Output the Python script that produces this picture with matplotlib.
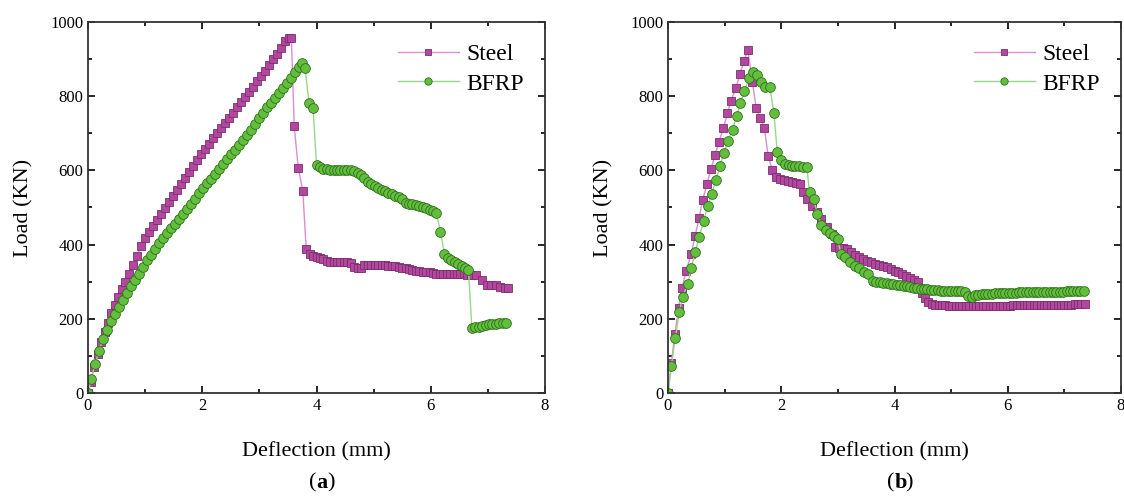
import matplotlib
matplotlib.use("Agg")
import matplotlib.pyplot as plt
from matplotlib.ticker import MultipleLocator

# ---- panel (a) ----
steel_a_x = [0.0, 0.05, 0.11, 0.17, 0.23, 0.29, 0.35, 0.41, 0.47, 0.53, 0.59, 0.65,
             0.72, 0.79, 0.86, 0.93, 1.0, 1.07, 1.14, 1.21, 1.28, 1.35, 1.42, 1.49,
             1.56, 1.63, 1.70, 1.77, 1.84, 1.91, 1.98, 2.05, 2.12, 2.19, 2.26, 2.33,
             2.40, 2.47, 2.54, 2.61, 2.68, 2.75, 2.82, 2.89, 2.96, 3.03, 3.10, 3.17,
             3.24, 3.31, 3.38, 3.45, 3.52, 3.56, 3.61, 3.68, 3.76, 3.82, 3.88, 3.94,
             4.00, 4.06, 4.12, 4.18, 4.24, 4.30, 4.36, 4.42, 4.48, 4.54, 4.60, 4.66,
             4.72, 4.78, 4.84, 4.90, 4.96, 5.02, 5.08, 5.14, 5.20, 5.26, 5.32, 5.38,
             5.44, 5.50, 5.56, 5.62, 5.68, 5.74, 5.80, 5.86, 5.92, 5.98, 6.04, 6.10,
             6.16, 6.22, 6.28, 6.34, 6.40, 6.46, 6.52, 6.58, 6.64, 6.70, 6.80, 6.90,
             6.98, 7.06, 7.14, 7.22, 7.30, 7.36]
steel_a_y = [0, 30, 70, 105, 138, 165, 190, 215, 238, 260, 280, 300,
             322, 344, 370, 395, 418, 435, 451, 467, 483, 499, 515, 531,
             547, 563, 579, 595, 611, 627, 643, 658, 672, 686, 700, 714,
             728, 742, 756, 770, 784, 798, 812, 826, 840, 854, 869, 884,
             899, 914, 929, 950, 958, 958, 720, 607, 545, 388, 375, 370,
             366, 363, 360, 357, 354, 352, 352, 353, 353, 354, 350, 340,
             338, 338, 344, 346, 346, 346, 345, 345, 344, 343, 342, 341,
             340, 338, 336, 334, 332, 330, 328, 327, 326, 325, 324, 322,
             320, 320, 320, 320, 321, 321, 320, 320, 319, 318, 318, 305,
             290, 290, 292, 285, 283, 284]

bfrp_a_x = [0.0, 0.06, 0.12, 0.19, 0.26, 0.33, 0.40, 0.47, 0.54, 0.61, 0.68, 0.75,
            0.82, 0.89, 0.96, 1.03, 1.10, 1.17, 1.24, 1.31, 1.38, 1.45, 1.52, 1.59,
            1.66, 1.73, 1.80, 1.87, 1.94, 2.01, 2.08, 2.15, 2.22, 2.29, 2.36, 2.43,
            2.50, 2.57, 2.64, 2.71, 2.78, 2.85, 2.92, 2.99, 3.06, 3.13, 3.20, 3.27,
            3.34, 3.41, 3.48, 3.55, 3.62, 3.69, 3.74, 3.80, 3.87, 3.94, 4.00, 4.06,
            4.12, 4.18, 4.24, 4.30, 4.36, 4.42, 4.48, 4.54, 4.60, 4.66, 4.72, 4.78,
            4.84, 4.90, 4.96, 5.02, 5.08, 5.14, 5.20, 5.26, 5.32, 5.38, 5.44, 5.50,
            5.56, 5.62, 5.68, 5.74, 5.80, 5.86, 5.92, 5.98, 6.04, 6.10, 6.17, 6.24,
            6.30, 6.36, 6.42, 6.48, 6.54, 6.60, 6.66, 6.72, 6.78, 6.84, 6.90, 6.96,
            7.02, 7.08, 7.14, 7.20, 7.26, 7.32]
bfrp_a_y = [0, 38, 77, 112, 145, 170, 195, 213, 233, 252, 270, 288,
            305, 322, 340, 358, 373, 388, 403, 418, 432, 444, 456, 468,
            482, 496, 510, 524, 538, 552, 565, 578, 591, 604, 617, 630,
            643, 656, 669, 682, 695, 710, 725, 740, 755, 770, 782, 795,
            808, 822, 836, 850, 866, 880, 889, 875, 781, 768, 614, 608,
            605, 603, 602, 601, 601, 600, 600, 600, 600, 598, 594, 588,
            580, 568, 562, 557, 552, 548, 544, 540, 536, 532, 528, 524,
            512, 510, 509, 507, 505, 502, 498, 494, 490, 484, 435, 375,
            365, 358, 352, 347, 342, 338, 332, 176, 177, 179, 181, 183,
            185, 186, 187, 188, 189, 190]

# ---- panel (b) ----
steel_b_x = [0.0, 0.06, 0.12, 0.19, 0.25, 0.32, 0.41, 0.48, 0.55, 0.61, 0.69, 0.76,
             0.83, 0.90, 0.98, 1.05, 1.11, 1.20, 1.27, 1.34, 1.41, 1.49, 1.56, 1.63,
             1.70, 1.77, 1.84, 1.91, 1.98, 2.05, 2.12, 2.19, 2.26, 2.33, 2.39, 2.46,
             2.54, 2.63, 2.71, 2.80, 2.89, 2.95, 3.02, 3.09, 3.16, 3.23, 3.30, 3.37,
             3.44, 3.51, 3.58, 3.65, 3.72, 3.79, 3.86, 3.93, 4.00, 4.07, 4.14, 4.21,
             4.28, 4.35, 4.42, 4.48, 4.54, 4.60, 4.66, 4.72, 4.78, 4.84, 4.90, 4.96,
             5.02, 5.08, 5.14, 5.20, 5.26, 5.32, 5.38, 5.44, 5.50, 5.56, 5.62, 5.68,
             5.74, 5.80, 5.86, 5.92, 5.98, 6.04, 6.10, 6.16, 6.22, 6.28, 6.34, 6.40,
             6.46, 6.52, 6.58, 6.64, 6.70, 6.76, 6.82, 6.88, 6.94, 7.00, 7.06, 7.12,
             7.18, 7.24, 7.30, 7.36]
steel_b_y = [0, 81, 158, 230, 284, 329, 375, 424, 472, 519, 564, 605,
             641, 677, 715, 754, 787, 823, 859, 894, 925, 837, 767, 742,
             715, 639, 600, 582, 578, 575, 572, 570, 567, 562, 541, 523,
             503, 487, 469, 447, 429, 393, 392, 390, 387, 380, 372, 367,
             362, 357, 352, 348, 345, 342, 339, 335, 330, 325, 320, 315,
             310, 305, 300, 270, 255, 245, 240, 238, 237, 236, 236, 235,
             235, 235, 235, 235, 235, 235, 235, 235, 235, 235, 235, 235,
             235, 235, 235, 235, 235, 235, 236, 236, 236, 236, 236, 236,
             236, 237, 237, 237, 237, 237, 237, 238, 238, 238, 238, 238,
             239, 239, 239, 240]

bfrp_b_x = [0.0, 0.06, 0.13, 0.20, 0.26, 0.35, 0.41, 0.48, 0.55, 0.63, 0.70, 0.77,
            0.85, 0.92, 0.99, 1.06, 1.14, 1.21, 1.28, 1.35, 1.43, 1.50, 1.58, 1.65,
            1.72, 1.80, 1.87, 1.93, 2.00, 2.07, 2.13, 2.19, 2.25, 2.31, 2.38, 2.45,
            2.50, 2.57, 2.64, 2.71, 2.79, 2.86, 2.93, 3.00, 3.05, 3.12, 3.21, 3.30,
            3.38, 3.47, 3.54, 3.62, 3.68, 3.74, 3.80, 3.86, 3.92, 3.98, 4.04, 4.10,
            4.16, 4.22, 4.28, 4.34, 4.40, 4.46, 4.52, 4.58, 4.64, 4.70, 4.76, 4.82,
            4.88, 4.94, 5.00, 5.06, 5.12, 5.18, 5.24, 5.30, 5.36, 5.42, 5.48, 5.54,
            5.60, 5.66, 5.72, 5.78, 5.84, 5.90, 5.96, 6.02, 6.08, 6.14, 6.20, 6.26,
            6.32, 6.38, 6.44, 6.50, 6.56, 6.62, 6.68, 6.74, 6.80, 6.86, 6.92, 6.98,
            7.04, 7.10, 7.16, 7.22, 7.28, 7.34]
bfrp_b_y = [0, 74, 149, 217, 260, 295, 336, 379, 421, 463, 504, 537,
            575, 612, 648, 680, 710, 746, 781, 814, 848, 865, 857, 838,
            826, 824, 754, 650, 627, 618, 615, 613, 612, 611, 610, 609,
            541, 523, 483, 454, 440, 431, 422, 415, 375, 366, 352, 343,
            336, 327, 320, 302, 300, 298, 297, 296, 294, 293, 291, 290,
            289, 288, 286, 284, 282, 281, 280, 279, 278, 277, 277, 276,
            276, 276, 275, 275, 275, 274, 272, 262, 259, 263, 265, 266,
            267, 268, 268, 269, 269, 269, 270, 270, 270, 270, 271, 271,
            271, 271, 272, 272, 272, 272, 272, 273, 273, 273, 273, 273,
            274, 274, 274, 274, 274, 274]

panels = [
    ("a", steel_a_x, steel_a_y, bfrp_a_x, bfrp_a_y),
    ("b", steel_b_x, steel_b_y, bfrp_b_x, bfrp_b_y),
]

plt.rcParams['font.family'] = ['Liberation Serif', 'DejaVu Serif']

fig = plt.figure(figsize=(11.24, 4.98), dpi=100)
rects = [[88 / 1124, 1 - 393 / 498, 457 / 1124, 371 / 498],
         [668 / 1124, 1 - 393 / 498, 453 / 1124, 371 / 498]]

for rect, (tag, sx, sy, bx, by) in zip(rects, panels):
    ax = fig.add_axes(rect)
    ax.plot(sx, sy, color='#d98fcf', lw=1, marker='s', ms=6,
            mfc='#b3479f', mec='#7a2f6c', mew=0.6, label='Steel')
    ax.plot(bx, by, color='#9ad68a', lw=1, marker='o', ms=7,
            mfc='#62bf3c', mec='#2f6e1c', mew=0.6, label='BFRP')
    ax.set_xlim(0, 8)
    ax.set_ylim(0, 1000)
    ax.xaxis.set_major_locator(MultipleLocator(2))
    ax.xaxis.set_minor_locator(MultipleLocator(1))
    ax.yaxis.set_major_locator(MultipleLocator(200))
    ax.yaxis.set_minor_locator(MultipleLocator(100))
    ax.tick_params(which='both', direction='in', top=True, right=True,
                   labelsize=12, width=1.2)
    ax.tick_params(which='major', length=5)
    ax.tick_params(which='minor', length=3)
    for sp in ax.spines.values():
        sp.set_linewidth(1.3)
        sp.set_color('#333333')
    ax.set_xlabel('Deflection (mm)', fontsize=16, labelpad=20)
    ax.set_ylabel('Load (KN)', fontsize=16, labelpad=12)
    ax.legend(loc='upper right', frameon=False, fontsize=17,
              handlelength=2.6, markerscale=0.75, borderaxespad=0.5,
              labelspacing=0.35, handletextpad=0.3)
    # panel tag "(a)" / "(b)" with the letter in bold
    ax.text(0.5, -0.215, '(', transform=ax.transAxes, ha='right',
            va='top', fontsize=16)
    ax.text(0.5, -0.215, tag, transform=ax.transAxes, ha='left',
            va='top', fontsize=16, fontweight='bold')
    ax.text(0.5 + 0.023, -0.215, ')', transform=ax.transAxes, ha='left',
            va='top', fontsize=16)

fig.savefig('out.png', dpi=100)
